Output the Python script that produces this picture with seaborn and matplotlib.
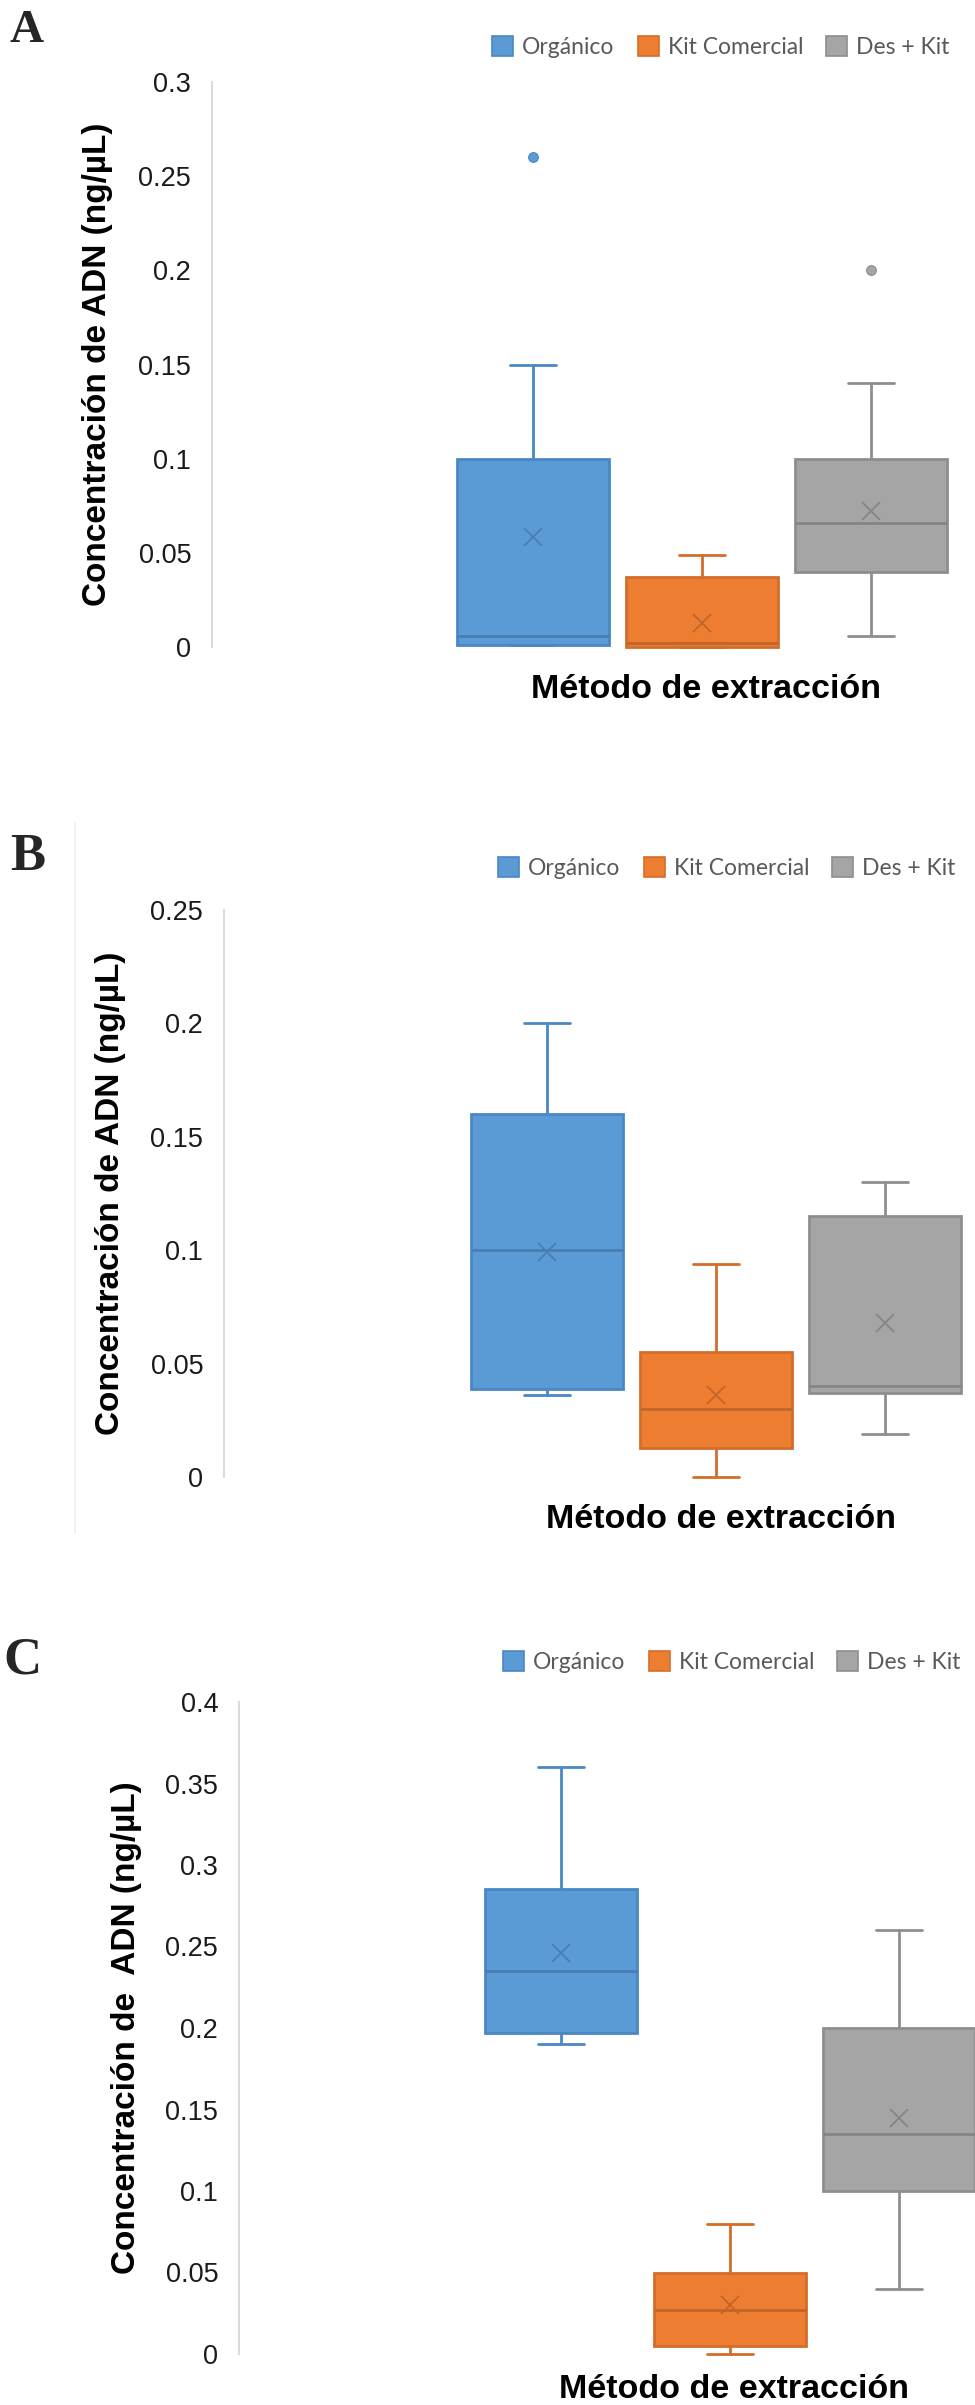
import numpy as np
import matplotlib
matplotlib.use("Agg")
import matplotlib.pyplot as plt
from matplotlib.patches import Patch
from matplotlib.lines import Line2D
import seaborn as sns

# data (box summaries per extraction method)
# ---

metodos = ["Orgánico", "Kit Comercial", "Des + Kit"]

# panel A
a_min = [0.001, 0.0, 0.006]
a_q1 = [0.001, 0.0, 0.04]
a_mediana = [0.006, 0.002, 0.066]
a_q3 = [0.1, 0.037, 0.1]
a_max = [0.15, 0.049, 0.14]
a_media = [0.0585, 0.0128, 0.072]
a_atipicos = [[0.26], [], [0.2]]

# panel B
b_min = [0.036, 0.0, 0.019]
b_q1 = [0.039, 0.013, 0.037]
b_mediana = [0.1, 0.03, 0.04]
b_q3 = [0.16, 0.055, 0.115]
b_max = [0.2, 0.094, 0.13]
b_media = [0.099, 0.036, 0.068]
b_atipicos = [[], [], []]

# panel C
c_min = [0.19, 0.0, 0.04]
c_q1 = [0.197, 0.005, 0.1]
c_mediana = [0.235, 0.027, 0.135]
c_q3 = [0.285, 0.05, 0.2]
c_max = [0.36, 0.08, 0.26]
c_media = [0.246, 0.03, 0.145]
c_atipicos = [[], [], []]

ylabel_ab = "Concentración de ADN (ng/µL)"
ylabel_c = "Concentración de  ADN (ng/µL)"
xlabel = "Método de extracción"

# style
# ---

sns.set_theme(style="white")
plt.rcParams["font.family"] = ["Liberation Sans", "DejaVu Sans"]

relleno = sns.color_palette(["#5B9BD5", "#ED7D31", "#A5A5A5"])
borde = ["#4A87C4", "#D36E2A", "#8E8E8E"]
oscuro = ["#4A7DB3", "#C2652A", "#858585"]

W, H = 975, 2405
fig = plt.figure(figsize=(W / 100, H / 100), dpi=100)

# layout of each panel in pixels (spine x, first box centre, y of top tick, y of zero)
paneles = [
    dict(letra="A", letra_xy=(10, 42), letra_size=34,
         spine=212, c0=533, ytop=82, ybot=647, ymax=0.3,
         leg=(492, 47), xlab=(706, 698), ylab_dx=114, ylabel=ylabel_ab,
         stats=(a_min, a_q1, a_mediana, a_q3, a_max, a_media, a_atipicos)),
    dict(letra="B", letra_xy=(10, 870), letra_size=38,
         spine=224, c0=547, ytop=910, ybot=1477, ymax=0.25,
         leg=(498, 868), xlab=(721, 1528), ylab_dx=113, ylabel=ylabel_ab,
         stats=(b_min, b_q1, b_mediana, b_q3, b_max, b_media, b_atipicos)),
    dict(letra="C", letra_xy=(3, 1673), letra_size=38,
         spine=239, c0=561, ytop=1702, ybot=2354, ymax=0.4,
         leg=(503, 1662), xlab=(734, 2398), ylab_dx=112, ylabel=ylabel_c,
         stats=(c_min, c_q1, c_mediana, c_q3, c_max, c_media, c_atipicos)),
]

# faint left edge of the pasted chart in panel B
fig.add_artist(Line2D([75 / W, 75 / W], [1 - 823 / H, 1 - 1533 / H],
                      transform=fig.transFigure, color="#EDEDED", linewidth=1.2))

paso = 169  # pixels between box centres
for p in paneles:
    ancho_px = W - p["spine"]
    ax = fig.add_axes([p["spine"] / W, 1 - p["ybot"] / H,
                       ancho_px / W, (p["ybot"] - p["ytop"]) / H])
    lo = 1 - (p["c0"] - p["spine"]) / paso
    ax.set_xlim(lo, lo + ancho_px / paso)
    ax.set_ylim(0, p["ymax"])

    mn, q1, med, q3, mx, media, atip = p["stats"]
    cajas = [dict(whislo=mn[i], q1=q1[i], med=med[i], q3=q3[i], whishi=mx[i],
                  mean=media[i], fliers=atip[i], label=metodos[i])
             for i in range(len(metodos))]
    art = ax.bxp(cajas, positions=[1, 2, 3], widths=0.905, capwidths=0.27,
                 patch_artist=True, showmeans=True, manage_ticks=False)

    for i in range(3):
        art["boxes"][i].set(facecolor=relleno[i], edgecolor=borde[i], linewidth=2)
        art["medians"][i].set(color=oscuro[i], linewidth=2)
        for ln in art["whiskers"][2 * i:2 * i + 2] + art["caps"][2 * i:2 * i + 2]:
            ln.set(color=borde[i], linewidth=2)
        art["means"][i].set(marker="x", markersize=13, markeredgewidth=1.3,
                            markeredgecolor=oscuro[i], markerfacecolor="none")
        art["fliers"][i].set(marker="o", markersize=7, markerfacecolor=relleno[i],
                             markeredgecolor=borde[i], markeredgewidth=0.8)
    for grupo in art.values():
        for a in grupo:
            a.set_clip_on(False)

    # axes
    ticks = np.round(np.arange(0, p["ymax"] + 1e-9, 0.05), 2)
    ax.set_yticks(ticks)
    ax.set_yticklabels([f"{t:g}" for t in ticks])
    ax.set_xticks([])
    ax.tick_params(axis="y", length=0, pad=15, labelsize=19.5, labelcolor="#1a1a1a")
    for s in ["top", "right", "bottom"]:
        ax.spines[s].set_visible(False)
    ax.spines["left"].set(color="#D9D9D9", linewidth=1.4)
    ax.grid(False)

    ax.set_ylabel(p["ylabel"], fontsize=24, fontweight="bold", color="black")
    ax.yaxis.set_label_coords(-p["ylab_dx"] / ancho_px, 0.5)
    ax.yaxis.label.set_verticalalignment("center")

    fig.text(p["xlab"][0] / W, 1 - p["xlab"][1] / H, xlabel, fontsize=24.5,
             fontweight="bold", ha="center", va="baseline", color="black")

    fig.text(p["letra_xy"][0] / W, 1 - p["letra_xy"][1] / H, p["letra"],
             family="Liberation Serif", fontweight="bold", fontsize=p["letra_size"],
             ha="left", va="baseline")

    handles = [Patch(facecolor=relleno[i], edgecolor=borde[i], linewidth=1.2)
               for i in range(3)]
    ax.legend(handles, metodos, ncol=3, loc="center left",
              bbox_to_anchor=(p["leg"][0] / W, 1 - p["leg"][1] / H),
              bbox_transform=fig.transFigure, frameon=False,
              prop={"family": "Lato", "size": 16.5}, labelcolor="#595959",
              handlelength=0.92, handleheight=0.92, handletextpad=0.4,
              columnspacing=1.0, borderpad=0, borderaxespad=0)

fig.savefig("out.png", dpi=100)
plt.close(fig)
